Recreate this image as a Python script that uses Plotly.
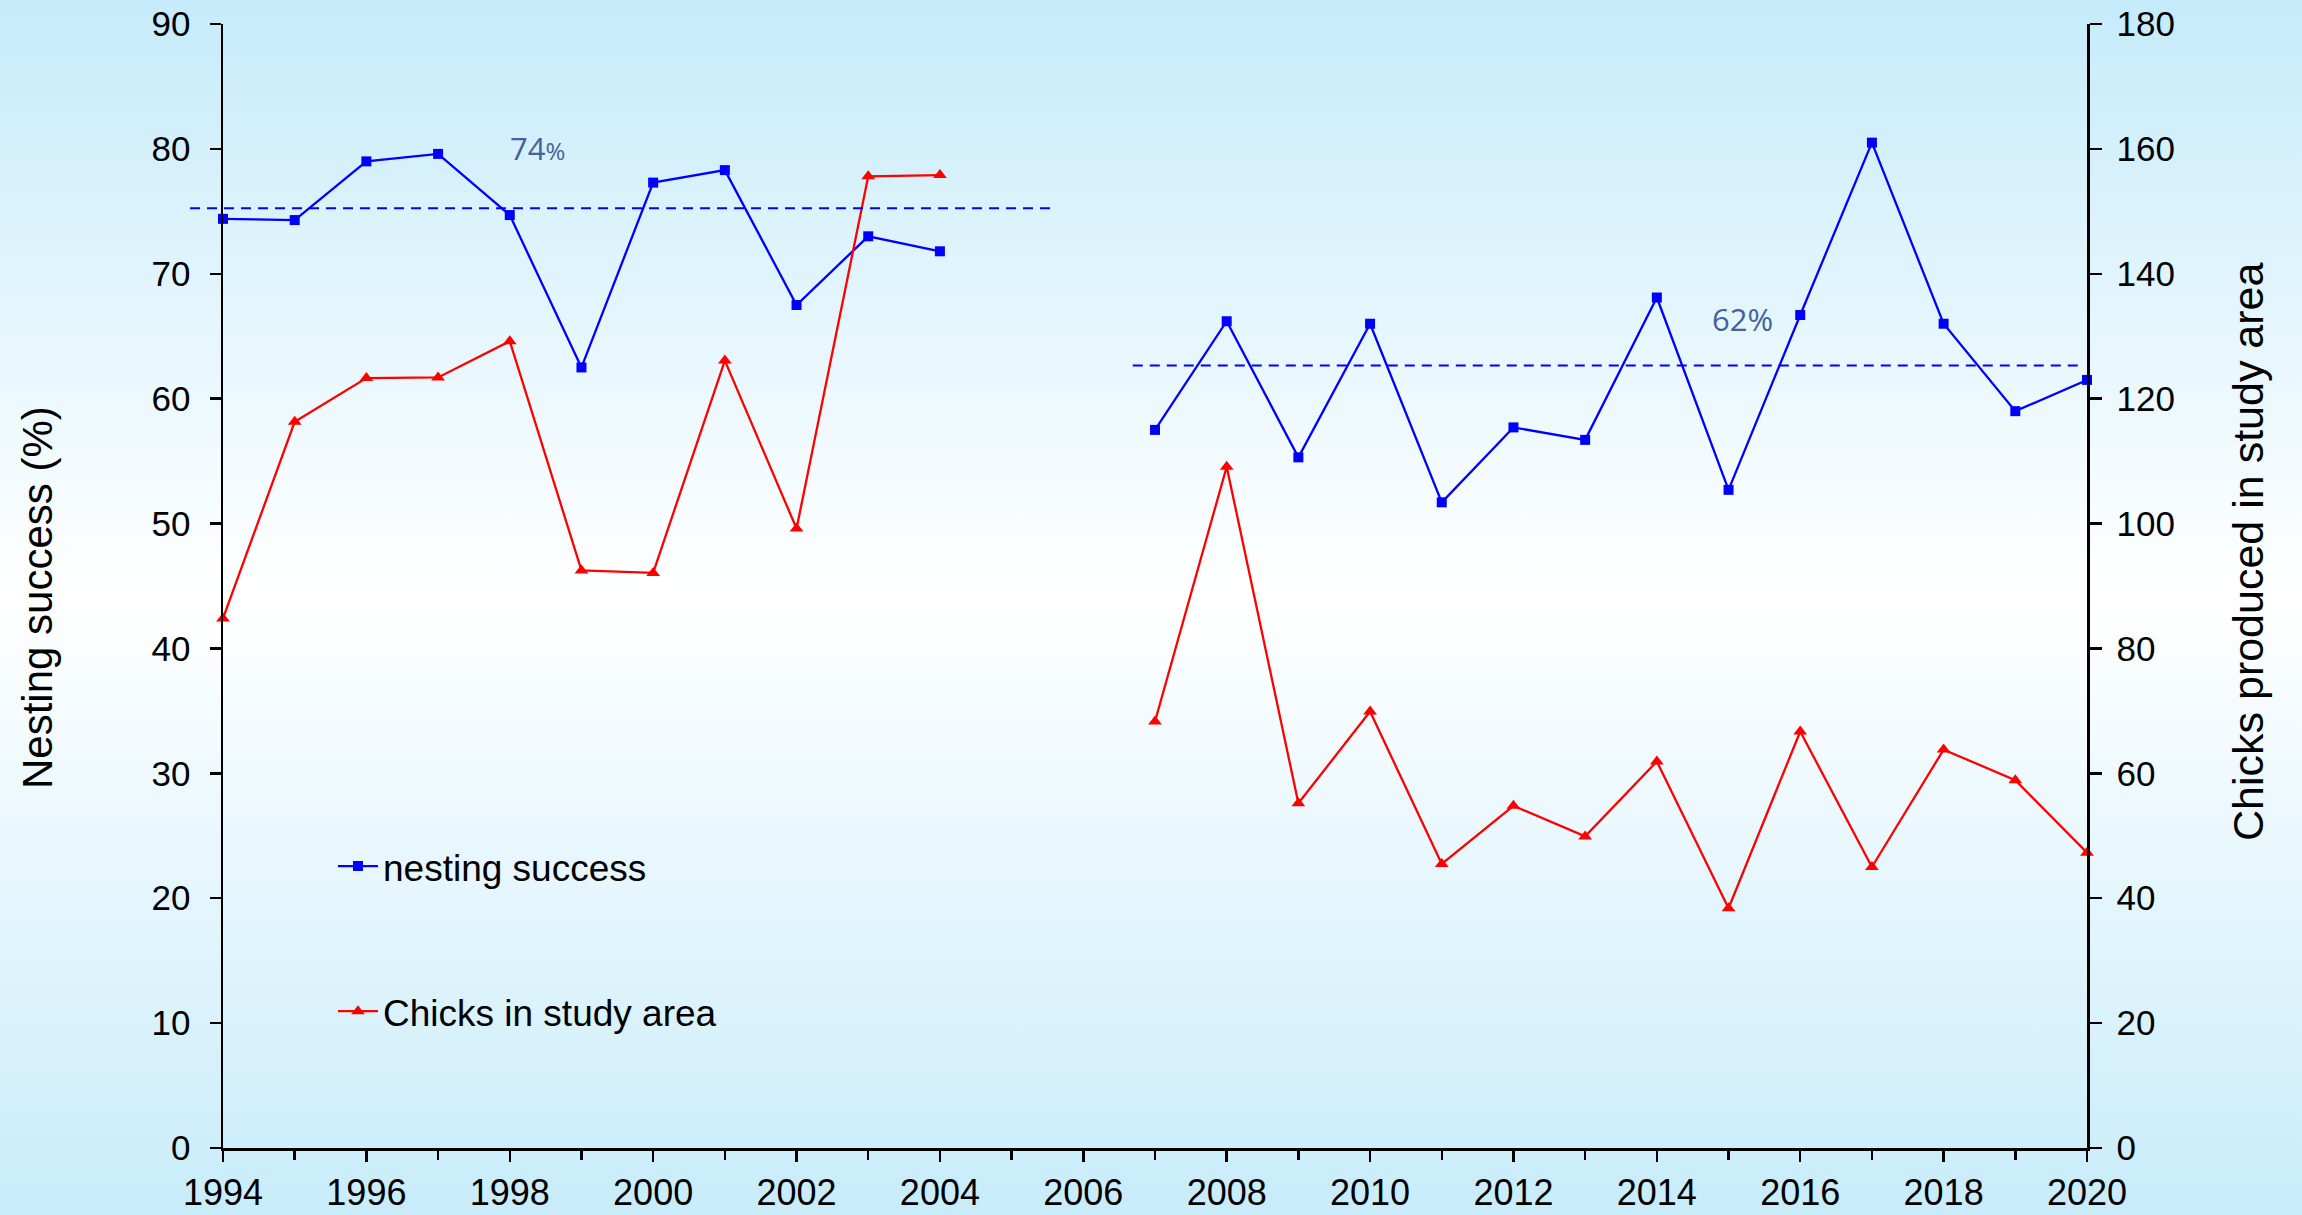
import base64
import plotly.graph_objects as go

# ---------------- data ----------------
years_a = [1994, 1995, 1996, 1997, 1998, 1999, 2000, 2001, 2002, 2003, 2004]
nesting_a = [74.4, 74.3, 79.0, 79.6, 74.7, 62.5, 77.3, 78.3, 67.5, 73.0, 71.8]
chicks_a = [84.8, 116.3, 123.3, 123.4, 129.2, 92.5, 92.1, 126.1, 99.2, 155.6, 155.8]

years_b = [2007, 2008, 2009, 2010, 2011, 2012, 2013, 2014, 2015, 2016, 2017, 2018, 2019, 2020]
nesting_b = [57.5, 66.2, 55.3, 66.0, 51.7, 57.7, 56.7, 68.1, 52.7, 66.7, 80.5, 66.0, 59.0, 61.5]
chicks_b = [68.3, 109.1, 55.2, 69.9, 45.5, 54.8, 49.9, 61.9, 38.4, 66.7, 45.0, 63.8, 58.9, 47.3]

mean_values = [75.25, 62.66]
mean_starts = [1993.54, 2006.69]
mean_ends = [2005.57, 2019.93]
mean_labels = ["74<span style='font-size:24px'>%</span>", "62%"]
label_years = [1998.39, 2015.19]
label_values = [80.1, 66.4]

x_ticks = list(range(1994, 2021, 2))
X_RANGE = [1994, 2020]

# ---------------- layout constants ----------------
W, H = 2302, 1215
ML, MR, MT, MB = 223, 215, 24, 67
PW, PH = W - ML - MR, H - MT - MB
FONT = "Liberation Sans, Arial, sans-serif"

svg = (
    "<svg xmlns='http://www.w3.org/2000/svg' width='100' height='100' preserveAspectRatio='none'>"
    "<defs><linearGradient id='g' x1='0' y1='0' x2='0' y2='1'>"
    "<stop offset='0' stop-color='#c6ebfa'/>"
    "<stop offset='0.49' stop-color='#ffffff'/>"
    "<stop offset='1' stop-color='#c8ecfa'/>"
    "</linearGradient></defs>"
    "<rect width='100' height='100' fill='url(#g)'/></svg>"
)
bg_src = "data:image/svg+xml;base64," + base64.b64encode(svg.encode()).decode()

fig = go.Figure()

blue = "#0000ff"
red = "#ff0000"

for i, (yrs, vals) in enumerate([(years_a, nesting_a), (years_b, nesting_b)]):
    fig.add_trace(go.Scatter(
        x=yrs, y=vals, mode="lines+markers", name="nesting success",
        line=dict(color=blue, width=2.3),
        marker=dict(symbol="square", size=10, color=blue),
        showlegend=(i == 0), legendgroup="nest", yaxis="y",
        cliponaxis=False,
    ))
for i, (yrs, vals) in enumerate([(years_a, chicks_a), (years_b, chicks_b)]):
    fig.add_trace(go.Scatter(
        x=yrs, y=vals, mode="lines+markers", name="Chicks in study area",
        line=dict(color=red, width=2.3),
        marker=dict(symbol="triangle-up", size=12, color=red),
        showlegend=(i == 0), legendgroup="chicks", yaxis="y2",
        cliponaxis=False,
    ))

span = X_RANGE[1] - X_RANGE[0]
for v, s, e in zip(mean_values, mean_starts, mean_ends):
    fig.add_shape(type="line", xref="paper", yref="y",
                  x0=(s - X_RANGE[0]) / span, x1=(e - X_RANGE[0]) / span,
                  y0=v, y1=v,
                  line=dict(color=blue, width=2, dash="10px,7px"), layer="above")

for t, xv, yv in zip(mean_labels, label_years, label_values):
    fig.add_annotation(x=xv, y=yv, xref="x", yref="y", text=t, showarrow=False,
                       font=dict(family="Open Sans, Noto Sans, sans-serif", size=31, color="#44629a"))

# axis titles
fig.add_annotation(x=(37 - ML) / PW, y=(H - MB - 598) / PH, xref="paper", yref="paper",
                   text="Nesting success (%)", textangle=-90, showarrow=False,
                   xanchor="center", yanchor="middle",
                   font=dict(size=42, family=FONT, color="black"))
fig.add_annotation(x=(2248 - ML) / PW, y=(H - MB - 552) / PH, xref="paper", yref="paper",
                   text="Chicks produced in study area", textangle=-90, showarrow=False,
                   xanchor="center", yanchor="middle",
                   font=dict(size=43, family=FONT, color="black"))

fig.add_layout_image(dict(
    source=bg_src, xref="paper", yref="paper",
    x=-ML / PW, y=1 + MT / PH, sizex=W / PW, sizey=H / PH,
    xanchor="left", yanchor="top", sizing="stretch", layer="below",
))

axis_common = dict(showgrid=False, zeroline=False, showline=True, linecolor="black",
                   linewidth=2.5, ticks="outside", tickcolor="black", tickwidth=2.5)

fig.update_layout(
    width=W, height=H,
    margin=dict(l=ML, r=MR, t=MT, b=MB, autoexpand=False),
    paper_bgcolor="#e6f6fd", plot_bgcolor="rgba(0,0,0,0)",
    font=dict(family=FONT, color="black"),
    xaxis=dict(range=X_RANGE, tickvals=x_ticks, ticklen=11,
               tickfont=dict(size=36, family=FONT),
               minor=dict(dtick=1, ticks="outside", ticklen=9, tickwidth=2.5, tickcolor="black"),
               **axis_common),
    yaxis=dict(range=[0, 90], dtick=10, ticklen=11, ticklabelstandoff=12,
               tickfont=dict(size=35, family=FONT),
               **axis_common),
    yaxis2=dict(range=[0, 180], dtick=20, ticklen=12, overlaying="y", side="right",
                ticklabelstandoff=8,
                tickfont=dict(size=35, family=FONT),
                **axis_common),
    legend=dict(x=0.059, y=0.278, xanchor="left", yanchor="top",
                bgcolor="rgba(0,0,0,0)", font=dict(size=37, family=FONT),
                tracegroupgap=94, itemwidth=40),
    showlegend=True,
    hovermode=False,
)

fig.write_html("out.html", config={"displayModeBar": False, "staticPlot": True},
               post_script="document.body.style.margin='0';document.body.style.overflow='hidden';")
